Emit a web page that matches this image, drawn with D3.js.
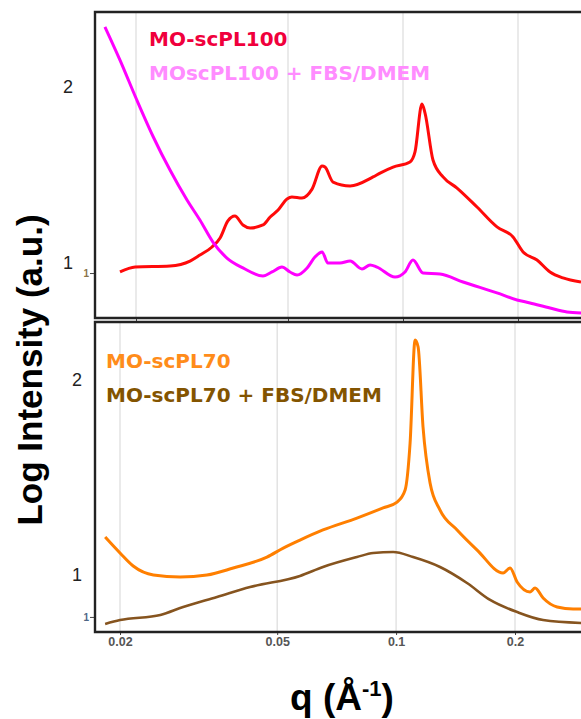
<!DOCTYPE html>
<html>
<head>
<meta charset="utf-8">
<script src="https://cdn.jsdelivr.net/npm/d3@7"></script>
<style>
    body { margin: 0; background: #fff; }
    svg text { font-family: "Liberation Sans", Arial, sans-serif; }
</style>
</head>
<body>
<svg id="chart" width="581" height="719"></svg>
<script>
// tick labels
var qTicks = [0.02, 0.05, 0.1, 0.2];
var intensityTicks = [1, 2];
var topInnerTick = [0.943];
var botInnerTick = [0.785];

// MO-scPL100
var pl100Q = [0.01816, 0.0199, 0.02455, 0.0277, 0.0294, 0.03162, 0.0332, 0.0348, 0.0363, 0.0381,
    0.0398, 0.0430, 0.0449, 0.0471, 0.0497, 0.0512, 0.0544, 0.0578, 0.0614, 0.0625,
    0.0656, 0.0727, 0.0835, 0.0871, 0.0942, 0.1043, 0.1075, 0.1121, 0.1142, 0.1198,
    0.1273, 0.1385, 0.1562, 0.1762, 0.1941, 0.2062, 0.2243, 0.2426, 0.2623, 0.2924];
var pl100I = [0.949, 0.977, 0.983, 1.011, 1.045, 1.091, 1.142, 1.239, 1.267, 1.216,
    1.199, 1.216, 1.261, 1.301, 1.364, 1.375, 1.369, 1.420, 1.551, 1.545,
    1.460, 1.438, 1.489, 1.511, 1.545, 1.574, 1.631, 1.903, 1.852, 1.585,
    1.489, 1.426, 1.318, 1.205, 1.148, 1.063, 1.017, 0.949, 0.915, 0.892];

// MOscPL100 + FBS/DMEM
var fbs100Q = [0.01659, 0.01816, 0.0201, 0.0222, 0.02455, 0.0272, 0.0294, 0.0318, 0.0346, 0.0381,
    0.0430, 0.0454, 0.0482, 0.0506, 0.0528, 0.0561, 0.0588, 0.0614, 0.0636, 0.0684,
    0.0727, 0.0781, 0.0820, 0.0855, 0.0953, 0.1012, 0.1062, 0.1128, 0.1250, 0.1436,
    0.1762, 0.1988, 0.2150, 0.2426, 0.2687, 0.2924];
var fbs100I = [2.341, 2.153, 1.926, 1.716, 1.528, 1.358, 1.244, 1.119, 1.028, 0.972,
    0.926, 0.949, 0.977, 0.949, 0.932, 0.972, 1.034, 1.063, 1.000, 1.000,
    1.011, 0.966, 0.989, 0.977, 0.920, 0.949, 1.017, 0.943, 0.938, 0.892,
    0.830, 0.790, 0.773, 0.744, 0.722, 0.716];

// MO-scPL70
var pl70Q = [0.01834, 0.0200, 0.0216, 0.0243, 0.0284, 0.0332, 0.0387, 0.0471, 0.0518, 0.0571,
    0.0653, 0.0796, 0.0927, 0.1006, 0.1054, 0.1085, 0.1117, 0.1137, 0.1170, 0.1219,
    0.1292, 0.1427, 0.1604, 0.1866, 0.1944, 0.2025, 0.2184, 0.2248, 0.2356, 0.2557,
    0.2806, 0.2941];
var pl70I = [1.195, 1.113, 1.046, 1.000, 0.990, 1.000, 1.036, 1.092, 1.138, 1.179,
    1.231, 1.292, 1.344, 1.374, 1.436, 1.677, 2.205, 2.169, 1.759, 1.472,
    1.333, 1.231, 1.128, 1.010, 1.036, 0.964, 0.913, 0.933, 0.882, 0.836,
    0.826, 0.826];

// MO-scPL70 + FBS/DMEM
var fbs70Q = [0.01834, 0.0200, 0.0253, 0.0289, 0.0352, 0.0427, 0.0571, 0.0653, 0.0796, 0.0875,
    0.0983, 0.1104, 0.1292, 0.1512, 0.1730, 0.2025, 0.2356, 0.2941];
var fbs70I = [0.749, 0.769, 0.795, 0.836, 0.887, 0.938, 0.995, 1.041, 1.092, 1.113,
    1.118, 1.092, 1.041, 0.959, 0.872, 0.810, 0.769, 0.754];

var svg = d3.select("#chart");
var left = 95;

var panels = [
    {
        id: "top", y0: 12, y1: 318,
        x: d3.scaleLog().domain([0.02, 0.2]).range([136, 518]),
        y: d3.scaleLinear().domain([1, 2]).range([263, 87]),
        series: [
            { q: pl100Q, v: pl100I, color: "#ff0a0a", width: 3 },
            { q: fbs100Q, v: fbs100I, color: "#ff00ff", width: 3 }
        ],
        legend: [
            { text: "MO-scPL100", color: "#f0003c", x: 149, y: 46 },
            { text: "MOscPL100 + FBS/DMEM", color: "#ff8cff", x: 149, y: 80 }
        ],
        labelPad: 22, inner: topInnerTick, innerColor: "#8a7348"
    },
    {
        id: "bot", y0: 322, y1: 632,
        x: d3.scaleLog().domain([0.02, 0.2]).range([120, 515]),
        y: d3.scaleLinear().domain([1, 2]).range([575, 380]),
        series: [
            { q: fbs70Q, v: fbs70I, color: "#86541f", width: 2.6 },
            { q: pl70Q, v: pl70I, color: "#ff7f00", width: 3 }
        ],
        legend: [
            { text: "MO-scPL70", color: "#ff8c1a", x: 106, y: 368 },
            { text: "MO-scPL70 + FBS/DMEM", color: "#835400", x: 106, y: 402 }
        ],
        labelPad: 13, inner: botInnerTick, innerColor: "#4f6685"
    }
];

panels.forEach(function (p) {
    var g = svg.append("g");

    g.append("clipPath").attr("id", "clip-" + p.id)
        .append("rect")
        .attr("x", left).attr("y", p.y0)
        .attr("width", 600 - left).attr("height", p.y1 - p.y0);

    // grid
    g.append("g").selectAll("line")
        .data(qTicks).enter().append("line")
        .attr("x1", function (d) { return p.x(d); })
        .attr("x2", function (d) { return p.x(d); })
        .attr("y1", p.y0).attr("y2", p.y1)
        .attr("stroke", "#dcdcdc").attr("stroke-width", 1.2);

    // curves
    var line = d3.line()
        .x(function (d) { return p.x(d[0]); })
        .y(function (d) { return p.y(d[1]); })
        .curve(d3.curveMonotoneX);

    g.append("g").attr("clip-path", "url(#clip-" + p.id + ")")
        .selectAll("path")
        .data(p.series).enter().append("path")
        .attr("d", function (s) { return line(d3.zip(s.q, s.v)); })
        .attr("fill", "none")
        .attr("stroke", function (s) { return s.color; })
        .attr("stroke-width", function (s) { return s.width; })
        .attr("stroke-linejoin", "round");

    // legend
    g.append("g").selectAll("text")
        .data(p.legend).enter().append("text")
        .attr("x", function (d) { return d.x; })
        .attr("y", function (d) { return d.y; })
        .style("font-family", "'DejaVu Sans', sans-serif")
        .style("font-weight", "bold")
        .style("font-size", "20px")
        .attr("fill", function (d) { return d.color; })
        .text(function (d) { return d.text; });

    // main y labels
    var yAxis = g.append("g")
        .attr("transform", "translate(" + left + ",0)")
        .call(d3.axisLeft(p.y).tickValues(intensityTicks).tickSize(0)
            .tickPadding(p.labelPad).tickFormat(d3.format("d")));
    yAxis.select(".domain").remove();
    yAxis.selectAll("text").style("font-size", "18px").attr("fill", "#222");

    // leftover inner tick
    var inner = g.append("g")
        .attr("transform", "translate(" + left + ",0)")
        .call(d3.axisLeft(p.y).tickValues(p.inner).tickSize(5)
            .tickPadding(1).tickFormat(function () { return "1"; }));
    inner.select(".domain").remove();
    inner.selectAll("line").attr("stroke", "#444");
    inner.selectAll("text").style("font-size", "10px").style("font-weight", "bold")
        .attr("fill", p.innerColor);

    // x ticks
    var xAxis = g.append("g")
        .attr("transform", "translate(0," + p.y1 + ")")
        .call(d3.axisBottom(p.x).tickValues(qTicks).tickSize(3).tickPadding(2)
            .tickFormat(function (d) { return p.id == "bot" ? String(d) : ""; }));
    xAxis.select(".domain").remove();
    xAxis.selectAll("line").attr("stroke", "#444");
    xAxis.selectAll("text").style("font-size", "12.5px").style("font-weight", "bold")
        .attr("fill", "#555");

    // frame (right side runs off the page)
    g.append("path")
        .attr("d", "M600," + p.y0 + "H" + left + "V" + p.y1 + "H600")
        .attr("fill", "none").attr("stroke", "#222").attr("stroke-width", 2.4);
});

// axis titles
svg.append("text")
    .attr("transform", "translate(42,370) rotate(-90)")
    .attr("text-anchor", "middle")
    .style("font-weight", "bold").style("font-size", "35px")
    .attr("fill", "#000")
    .text("Log Intensity (a.u.)");

var xt = svg.append("text")
    .attr("x", 342).attr("y", 710)
    .attr("text-anchor", "middle")
    .style("font-weight", "bold").style("font-size", "37px")
    .attr("fill", "#000");
xt.append("tspan").text("q (Å");
xt.append("tspan").attr("dy", -14).style("font-size", "22px").text("-1");
xt.append("tspan").attr("dy", 14).text(")");
</script>
</body>
</html>
